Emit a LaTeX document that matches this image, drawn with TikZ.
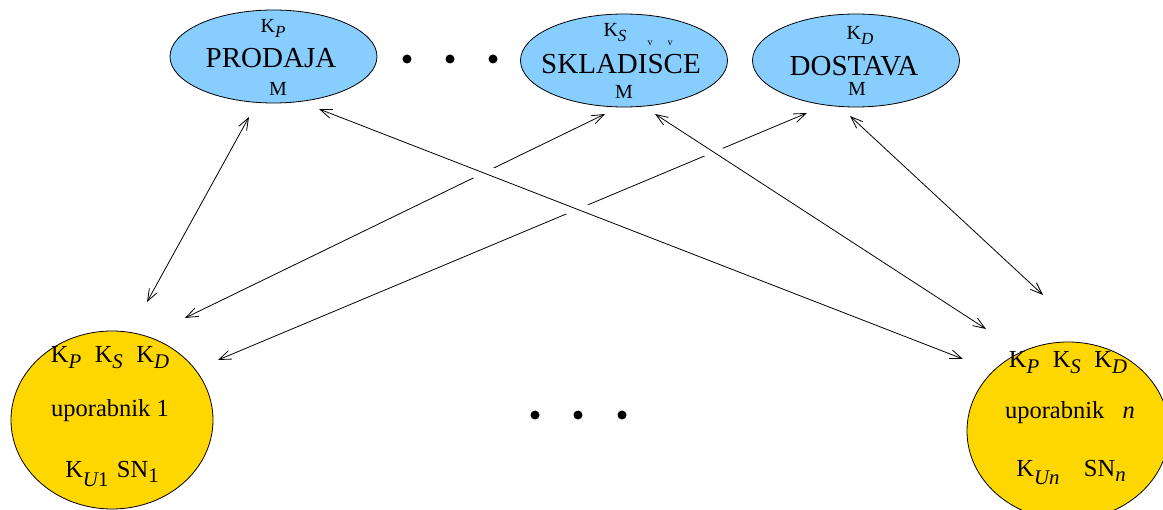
\documentclass[tikz,border=0pt]{standalone}
\usepackage{fontspec}
\setmainfont{Liberation Serif}
\usetikzlibrary{arrows.meta,shapes.geometric}
% lowered, slightly smaller index
\newcommand{\lowidx}[2][0.22em]{\raisebox{-#1}{\scalebox{0.85}{#2}}}

\begin{document}
\begin{tikzpicture}[x=1pt,y=-1pt,
  dept/.style={ellipse,draw=black,line width=0.8pt,fill=deptblue,
    minimum width=207pt,minimum height=93pt,inner sep=0pt},
  user/.style={ellipse,draw=black,line width=0.8pt,fill=usergold,
    minimum width=202pt,minimum height=178pt,inner sep=0pt},
  small/.style={anchor=base,inner sep=0pt,font=\fontsize{20}{22}\selectfont},
  big/.style={anchor=base,inner sep=0pt,font=\fontsize{29}{32}\selectfont},
  utext/.style={anchor=base,inner sep=0pt,font=\fontsize{24.5}{27}\selectfont},
  caron/.style={anchor=base,inner sep=0pt,font=\fontsize{10}{11}\selectfont},
  link/.style={line width=0.8pt,{Straight Barb[length=12pt,width=9pt]}-{Straight Barb[length=12pt,width=9pt]}},
  gapline/.style={draw=white,line width=16pt},
  dot/.style={circle,fill=black,inner sep=0pt,minimum size=9pt}
]
\definecolor{deptblue}{HTML}{87CEFF}
\definecolor{usergold}{HTML}{FFD700}
\useasboundingbox (0,0) rectangle (1163,510);

% departments
\node[dept] (prodaja) at (273.5,56.5) {};
\node[dept] (skladisce) at (624,60.5) {};
\node[dept] (dostava) at (856,60.5) {};

\node[small] (kp) at (273,33) {K\lowidx{\itshape P}};
\node[big] (np) at (271,68) {PRODAJA};
\node[small] (mp) at (278,96) {M};

\node[small] (ks) at (615,37) {K\lowidx{\itshape S}};
\node[big] (ns) at (621,74) {SKLADISCE};
\node[caron] (hs) at (650,46) {v};
\node[caron] (hc) at (670,46) {v};
\node[small] (ms) at (624,99) {M};

\node[small] (kd) at (860,40) {K\lowidx{\itshape D}};
\node[big] (nd) at (854,76) {DOSTAVA};
\node[small] (md) at (857,96) {M};

\node[dot] (d1) at (407,59) {};
\node[dot] (d2) at (450,59) {};
\node[dot] (d3) at (493,59) {};

% users
\node[user] (u1) at (112,420) {};
\node[utext] (u1k) at (110,363) {K\lowidx{\itshape P}\hspace{0.55em}K\lowidx{\itshape S}\hspace{0.55em}K\lowidx{\itshape D}};
\node[utext] (u1n) at (110,417) {uporabnik 1};
\node[utext] (u1s) at (112,478) {K\lowidx[0.35em]{\itshape U\upshape 1}\hspace{0.35em}SN\lowidx[0.2em]{1}};

\node[user] (un) at (1068,431) {};
\node[utext] (unk) at (1068,368) {K\lowidx{\itshape P}\hspace{0.55em}K\lowidx{\itshape S}\hspace{0.55em}K\lowidx{\itshape D}};
\node[utext] (unn) at (1070,419) {uporabnik\hspace{0.75em}\itshape n};
\node[utext] (uns) at (1071,477) {K\lowidx[0.3em]{\itshape Un}\hspace{1em}SN\lowidx[0.2em]{\itshape n}};

\node[dot] (e1) at (535,415) {};
\node[dot] (e2) at (578,415) {};
\node[dot] (e3) at (622,415) {};

% connector ends
\coordinate (a1) at (249,117); \coordinate (b1) at (147,302);
\coordinate (a2) at (605,114); \coordinate (b2) at (185,318);
\coordinate (a3) at (807,113); \coordinate (b3) at (218,360);
\coordinate (a4) at (319,109); \coordinate (b4) at (963,359);
\coordinate (a5) at (655,114); \coordinate (b5) at (986,329);
\coordinate (a6) at (850,116); \coordinate (b6) at (1043,295);

% links from user 1 (passing underneath)
\draw[link] (a1) -- (b1);
\draw[link] (a2) -- (b2);
\draw[link] (a3) -- (b3);

% break the lower lines where the links to user n pass over them
\draw[gapline,shorten <=150pt,shorten >=380pt] (a4) -- (b4);
\draw[gapline,shorten <=40pt,shorten >=285pt] (a5) -- (b5);

% links to user n
\draw[link] (a4) -- (b4);
\draw[link] (a5) -- (b5);
\draw[link] (a6) -- (b6);
\end{tikzpicture}
\end{document}
